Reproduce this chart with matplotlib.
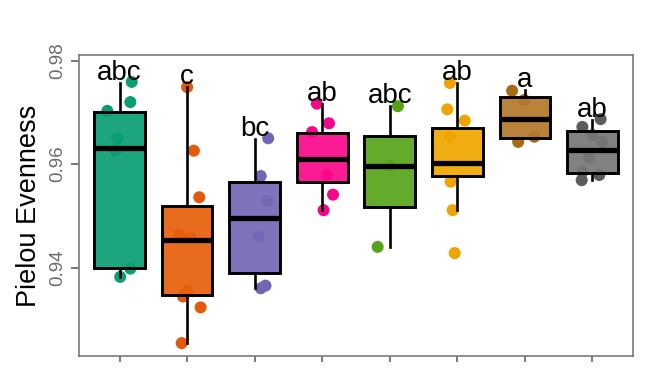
import numpy as np
import matplotlib.pyplot as plt
from matplotlib.colors import to_rgb

plt.rcParams['font.family'] = ['Liberation Sans', 'DejaVu Sans']

# box statistics
q1 = [0.9400, 0.9346, 0.9389, 0.9566, 0.9518, 0.9577, 0.9650, 0.9583]
med = [0.9632, 0.9453, 0.9495, 0.9610, 0.9597, 0.9603, 0.9688, 0.9628]
q3 = [0.9701, 0.9519, 0.9566, 0.9660, 0.9655, 0.9669, 0.9729, 0.9664]
whis_lo = [0.9382, 0.9254, 0.9360, 0.9511, 0.9440, 0.9511, 0.9650, 0.9569]
whis_hi = [0.9757, 0.9749, 0.9648, 0.9717, 0.9712, 0.9757, 0.9743, 0.9685]
letters = ['abc', 'c', 'bc', 'ab', 'abc', 'ab', 'a', 'ab']

# individual samples and their jitter offsets
points = [
    [0.9759, 0.9720, 0.9703, 0.9650, 0.9627, 0.9398, 0.9382],
    [0.9749, 0.9626, 0.9536, 0.9464, 0.9458, 0.9355, 0.9344, 0.9323, 0.9254],
    [0.9650, 0.9577, 0.9529, 0.9460, 0.9360, 0.9365],
    [0.9717, 0.9679, 0.9662, 0.9541, 0.9511, 0.9579],
    [0.9712, 0.9440, 0.9597],
    [0.9757, 0.9706, 0.9684, 0.9653, 0.9566, 0.9511, 0.9428],
    [0.9742, 0.9724, 0.9643, 0.9653],
    [0.9687, 0.9672, 0.9656, 0.9643, 0.9613, 0.9585, 0.9579, 0.9569],
]
jitter = [
    [0.18, 0.16, -0.18, -0.03, -0.06, 0.16, 0.01],
    [0.0, 0.10, 0.18, -0.12, 0.05, 0.0, -0.06, 0.20, -0.08],
    [0.20, 0.09, 0.19, 0.06, 0.09, 0.16],
    [-0.08, 0.10, -0.15, 0.16, 0.02, 0.07],
    [0.12, -0.18, 0.0],
    [-0.11, -0.15, 0.11, -0.11, -0.10, -0.07, -0.04],
    [-0.19, -0.01, -0.10, 0.14],
    [0.12, -0.15, 0.0, 0.14, -0.05, -0.15, 0.10, -0.16],
]

colors = ['#0a9e72', '#e45a0a', '#7066b4', '#f5078a', '#56a31a', '#eea500', '#a86a14', '#5c5c5c']
box_colors = ['#0a9e74', '#e8600c', '#7568b6', '#fb0a8c', '#58a51c', '#f0a800', '#b47a2c', '#787878']

fig = plt.figure(figsize=(6.56, 3.75), dpi=100)
ax = fig.add_axes([0.1204, 0.0507, 0.8446, 0.8026])

pos = np.arange(1, len(med) + 1)

for i, p in enumerate(pos):
    ax.scatter(p + np.array(jitter[i]), points[i], s=75, color=colors[i],
               edgecolors='none', zorder=1)

stats = []
for i in range(len(med)):
    stats.append(dict(med=med[i], q1=q1[i], q3=q3[i],
                      whislo=whis_lo[i], whishi=whis_hi[i], fliers=[]))

bp = ax.bxp(stats, positions=pos, widths=0.75, patch_artist=True,
            showcaps=False, showfliers=False, zorder=2,
            boxprops=dict(edgecolor='black', linewidth=2.1),
            medianprops=dict(color='black', linewidth=3.8, solid_capstyle='butt'),
            whiskerprops=dict(color='black', linewidth=1.9))
for patch, c in zip(bp['boxes'], box_colors):
    patch.set_facecolor((*to_rgb(c), 0.93))

for i, p in enumerate(pos):
    ax.text(p, whis_hi[i] + 0.0006, letters[i], ha='center', va='baseline',
            fontsize=20, color='black', zorder=3)

ax.set_xlim(0.4, 8.6)
ax.set_ylim(0.9229, 0.9811)
ax.set_yticks([0.94, 0.96, 0.98])
ax.set_yticklabels(['0.94', '0.96', '0.98'], rotation=90, va='center',
                   fontsize=13.5, color='#6a6a6a')
ax.set_xticks(pos)
ax.set_xticklabels([])
ax.tick_params(axis='y', length=6, width=1.1, color='#555555', pad=3)
ax.tick_params(axis='x', length=4, width=1.1, color='#555555')
ax.set_ylabel('Pielou Evenness', fontsize=19.5, color='black', labelpad=5.5)
for s in ax.spines.values():
    s.set_color('#7a7a7a')
    s.set_linewidth(1.2)

fig.savefig('out.png', dpi=100)
